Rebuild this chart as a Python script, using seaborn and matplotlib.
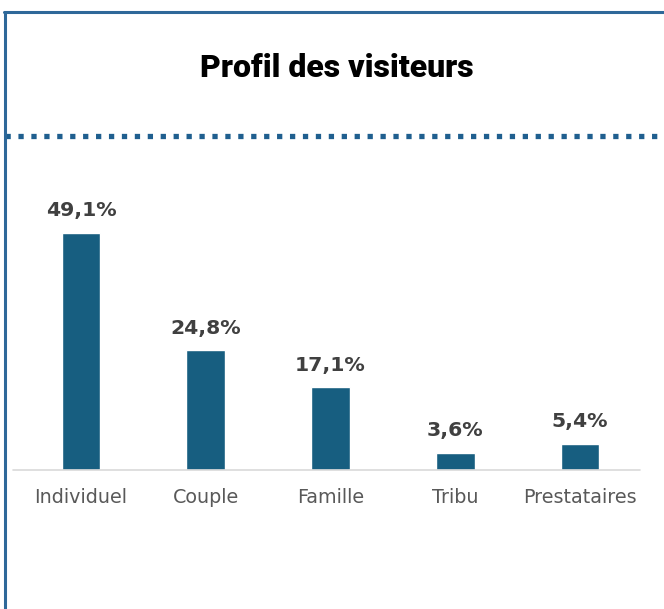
import numpy as np
import pandas as pd
import seaborn as sns
import matplotlib.pyplot as plt
from matplotlib.lines import Line2D

# donnees
categories = ["Individuel", "Couple", "Famille", "Tribu", "Prestataires"]
valeurs = [49.1, 24.8, 17.1, 3.6, 5.4]
etiquettes = ["49,1%", "24,8%", "17,1%", "3,6%", "5,4%"]

df = pd.DataFrame({"profil": categories, "pct": valeurs})

sns.set_theme(style="white")
plt.rcParams["font.family"] = ["DejaVu Sans"]

W, H = 664, 609
fig = plt.figure(figsize=(W / 100, H / 100), dpi=100)

# axes en pixels : bas a 470, haut a 180
ax = fig.add_axes([0, 1 - 470 / H, 1, (470 - 180) / H])
sns.barplot(data=df, x="profil", y="pct", color="#175e80", width=0.31,
            saturation=1, ax=ax)

ax.set_xlim(-81 / 124.75, 4 + (664 - 580) / 124.75)
ax.set_ylim(0, 290 / 4.83)
ax.set_xlabel("")
ax.set_ylabel("")
ax.set_yticks([])
for s in ["top", "right", "left", "bottom"]:
    ax.spines[s].set_visible(False)
ax.tick_params(axis="x", length=0, pad=13, labelsize=13.8, labelcolor="#595959")

# ligne de base grise
ax.plot([(13 - 81) / 124.75, 4 + (640 - 580) / 124.75], [0, 0],
        color="#d9d9d9", lw=1.2, clip_on=False)

for i, (v, t) in enumerate(zip(valeurs, etiquettes)):
    ax.annotate(t, (i, v), xytext=(0, 9), textcoords="offset points",
                ha="center", va="bottom", fontsize=14.7, fontweight="bold",
                color="#404040")

# titre
fig.text(337 / W, 1 - 68 / H, "Profil des visiteurs", ha="center", va="center",
         fontsize=23, fontweight="heavy", color="black", family="Roboto")

# ligne pointillee
fig.add_artist(Line2D([5 / W, 1], [1 - 136 / H, 1 - 136 / H], color="#1f5f8f",
                      lw=3.8, linestyle=(0, (1, 1.45)), dash_capstyle="butt"))

# cadre bleu (haut et gauche)
fig.add_artist(Line2D([4 / W, 1], [1 - 12 / H, 1 - 12 / H], color="#2e6899", lw=2.2))
fig.add_artist(Line2D([5 / W, 5 / W], [0, 1 - 12 / H], color="#2e6899", lw=2.2))

fig.savefig("out.png", dpi=100)
